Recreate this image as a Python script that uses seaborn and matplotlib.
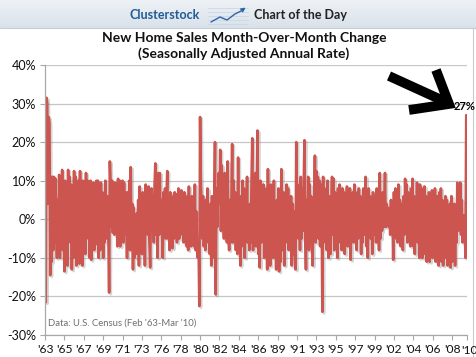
import numpy as np
import pandas as pd
import matplotlib
matplotlib.use("Agg")
import matplotlib.pyplot as plt
import matplotlib.patheffects as pe
from matplotlib.colors import LinearSegmentedColormap
import seaborn as sns

# new home sales, month-over-month % change (SAAR), Feb 1963 - Mar 2010
chg_1960s = [
    -5.0, -21.5, 31.5, 30.0, 4.0, 26.5, 25.0, -14.5, 11.0, -11.0, 11.0,
    -8.0, 11.0, -6.0, 10.5, 1.5, -10.0, 5.0, -5.5, 11.5, -10.0, 3.0, -6.0,
    12.8, -8.0, 5.0, -13.5, 10.0, -2.0, 8.5, -12.0, 12.8, -4.0, 11.0, -6.0,
    9.0, -13.0, 6.0, -10.0, 12.5, -3.0, 11.0, -12.0, 8.0, -2.0, 10.0, -11.5,
    12.5, -6.0, 9.0, -12.0, 10.0, 0.5, 7.0, -9.0, 12.0, -5.0, 10.0, -3.0,
    3.5, -10.0, 10.0, -10.5, 4.0, -6.0, 9.5, -8.0, 3.0, -6.5, 10.0, -4.0,
    10.0, -10.0, 4.0, -8.0, 9.5, -2.0, 7.0, -10.0, 3.0, -6.0, 10.0, -5.0,
]
chg_1970s = [
    1.0, 6.0, -4.0, -19.0, 15.0, 8.0, -2.0, 10.0, -3.5, 6.0, -4.0, 9.5,
    -2.0, 8.0, -7.0, 10.5, -5.0, 10.0, -7.0, 8.0, -3.0, 10.0, -6.0, 9.5,
    -4.0, 7.0, 2.0, -10.0, 7.0, -5.0, 10.0, -8.0, 13.5, -7.0, 4.0, -13.0,
    3.0, -10.0, 0.5, -9.0, 1.5, -8.0, 5.0, -12.0, 8.5, -5.0, 2.0, -9.0,
    7.0, -4.0, 5.0, -12.0, 9.0, -2.0, 6.0, -4.0, 8.5, -6.0, -12.5, 1.0,
    8.0, -3.0, 6.0, -6.0, 9.0, 14.5, -4.0, 8.0, -10.0, 12.0, -4.0, 12.0,
    -2.0, 5.0, -4.0, -10.0, 7.0, -3.0, 8.0, -5.0, 6.0, 12.5, -5.0, 4.0,
    -8.0, 7.0, -6.0, 4.0, -7.5, 6.0, -5.0, 7.0, -2.0, 6.5, -6.0, 3.0,
    8.0, -5.0, 6.0, -4.0, 7.5, -3.0, 5.0, -6.0, 7.0, -2.0, 4.0, -7.0,
    6.0, -8.0, 8.5, -5.0, 3.0, -7.0, 6.0, -4.0, 5.0, -7.0, 9.0, -8.0,
]
chg_1980s = [
    2.0, -8.0, -10.0, -6.0, -22.5, 26.5, 10.0, 4.0, -5.0, 6.0, -7.0, -2.0,
    -8.0, 5.0, -6.0, 8.0, -4.0, 3.0, -9.0, 4.0, -12.0, 6.0, -10.0, 3.0,
    5.0, 20.0, -19.5, 8.0, -2.0, 6.0, 12.0, 4.0, 18.0, -3.0, 14.0, 6.0,
    8.0, -5.0, 12.0, -3.0, 9.0, -6.0, 15.0, -4.0, -8.0, 5.0, -6.0, 4.0,
    19.5, -6.0, 10.0, -4.0, 7.0, -8.0, 5.0, -9.0, 16.0, -5.0, 3.0, -12.0,
    6.0, -7.0, 10.0, -4.0, 8.0, -10.0, 5.0, -3.0, 11.0, -6.0, 2.0, -8.0,
    4.0, -6.0, 10.0, 21.0, -8.0, 6.0, -5.0, 12.0, -7.0, 5.0, 23.0, -9.0,
    3.0, -12.5, 10.0, -6.0, 7.0, -4.0, 9.0, -10.0, 5.0, -3.0, 8.0, -13.0,
    13.0, -8.0, 7.0, -12.0, 9.0, -5.0, 6.0, -10.0, 10.0, -6.0, 4.0, -13.0,
    5.0, -9.0, 8.0, -13.5, 6.0, -11.0, 13.0, 3.0, -8.0, 7.0, -12.0, 4.0,
]
chg_1990s = [
    -6.0, 9.0, -5.0, 8.0, -8.0, 3.0, -7.0, 6.0, -12.0, 4.0, -9.0, 2.0,
    -9.0, -13.0, 20.0, -4.0, 9.0, -5.0, 7.0, -8.0, 11.0, -5.0, 8.0, -3.0,
    8.0, 20.5, -4.0, -13.0, 5.0, -6.0, 11.0, -8.0, 9.0, -4.0, 6.0, -7.0,
    -12.0, 5.0, 3.0, 16.5, -6.0, 12.5, -3.0, 11.0, -5.0, 10.0, -7.0, 9.0,
    3.0, -24.0, 11.0, -3.0, 8.0, -6.0, 5.0, -8.0, 10.0, -10.0, 6.0, -2.0,
    -9.0, 3.0, 11.0, -4.0, 10.5, -8.0, 7.0, -3.0, 5.0, -10.0, 8.0, -5.0,
    9.0, -6.0, 4.0, -8.0, 8.0, -2.0, 7.0, -9.0, 3.0, -5.0, 8.5, -7.0,
    6.0, -3.0, 8.0, -10.5, 5.0, -4.0, 7.0, -6.0, 9.0, -2.0, 4.0, -8.0,
    7.0, -5.0, 8.0, -3.0, 6.0, -9.0, 4.0, -6.0, 8.0, -4.0, 3.0, 11.0,
    -7.0, 5.0, -10.0, 8.0, -3.0, 6.0, -5.0, 4.0, -9.0, 7.0, -4.0, 6.0,
]
chg_2000s = [
    4.0, -6.0, 8.0, -3.0, 5.0, -8.0, 12.0, -5.0, 6.0, -3.0, 7.0, -2.0,
    3.0, 12.0, -2.0, 4.0, -1.0, 3.0, -2.0, 2.0, -4.0, 5.0, -3.0, 2.0,
    -10.5, 7.0, -3.0, 8.0, -5.0, 6.0, -6.0, 9.0, -2.0, 5.0, -7.0, 4.0,
    -3.0, -8.0, 6.0, -4.0, 10.5, -2.0, 9.0, -6.0, 7.0, -3.0, 4.0, -7.0,
    8.0, -5.0, 10.5, -7.0, 6.0, -9.0, 5.0, -4.0, 9.5, -6.0, 7.0, -10.0,
    9.0, -6.0, 8.0, -10.0, 7.0, -5.0, 8.5, -9.0, 6.0, -11.0, 4.0, -8.0,
    7.0, -11.0, 5.0, -8.0, 7.5, -10.0, 4.0, -9.0, 8.0, -11.0, 6.0, -7.0,
    6.0, -12.0, 7.0, -9.0, 8.0, -11.0, 5.0, -12.0, 3.0, -9.0, 6.0, -10.0,
    5.0, -12.0, 3.0, -9.0, 4.0, -12.5, 6.0, -11.0, 2.0, -8.0, 4.0, -12.0,
    3.0, -6.0, 9.5, -3.0, 9.0, 2.0, 9.5, -4.0, 5.0, -6.0, -3.0, 1.0,
]
chg_2010 = [-2.0, -10.0, 27.0]

mom_change = chg_1960s + chg_1970s + chg_1980s + chg_1990s + chg_2000s + chg_2010
months = pd.date_range("1963-02-01", periods=len(mom_change), freq="MS")

y_ticks = [-30, -20, -10, 0, 10, 20, 30, 40]
tick_every = 26  # excel put a label every 26 categories

df = pd.DataFrame({"n": np.arange(len(mom_change)), "change": mom_change})

x_pos = list(range(0, len(df), tick_every))
x_lab = ["'%02d" % (months[i].year % 100) for i in x_pos]
last_lab = "'%02d" % (months[-1].year % 100)

sns.set_style("white")
plt.rcParams["font.family"] = ["Lato", "DejaVu Sans"]

W, H = 476, 357
fig = plt.figure(figsize=(W / 100, H / 100), dpi=100)
ax = fig.add_axes([45 / W, 1 - 335 / H, 422 / W, 270 / H])

sns.lineplot(data=df, x="n", y="change", ax=ax, color="#cc5550", lw=1.9,
             path_effects=[pe.SimpleLineShadow(offset=(1.2, -1.2), shadow_color="#777777", alpha=0.3),
                           pe.Normal()])

ax.set_xlim(0, len(df))
ax.set_ylim(-30, 40)
ax.set_yticks(y_ticks)
ax.set_yticklabels([f"{v}%" for v in y_ticks])
ax.set_xticks(x_pos + [len(df)])
ax.set_xticklabels(x_lab + [""])
ax.set_xlabel("")
ax.set_ylabel("")
ax.yaxis.grid(True, color="#c6c6c6", lw=0.9)
ax.set_axisbelow(True)
for s in ["top", "right"]:
    ax.spines[s].set_visible(False)
for s in ["left", "bottom"]:
    ax.spines[s].set_color("#a8a8a8")
    ax.spines[s].set_linewidth(0.9)
ax.tick_params(axis="both", bottom=True, left=True, direction="out", length=3.5,
               width=0.8, color="#a8a8a8", labelsize=9, pad=3, labelcolor="#111111")
ax.tick_params(axis="x", labelsize=8.7)

ax.text(0.006, 0.026, "Data: U.S. Census (Feb '63-Mar '10)", transform=ax.transAxes,
        fontsize=6.8, color="#6e6e6e", va="bottom")

# overlay in pixel coords for banner, title and arrow
ov = fig.add_axes([0, 0, 1, 1])
ov.patch.set_visible(False)
banner = LinearSegmentedColormap.from_list("banner", ["#eef2f6", "#d9e1ea"])
ov.imshow(np.linspace(0, 1, 30).reshape(-1, 1), extent=[0, W, 28, 0], cmap=banner,
          aspect="auto", zorder=0)
ov.plot([0, W], [28, 28], color="#c5cdd6", lw=0.8)
ov.plot([473, 473], [28, H], color="#cccccc", lw=0.8)

# last year label sits at the right end of the axis
ov.text(469, 350, last_lab, fontsize=8.7, ha="center", va="center", color="#111111")

ov.text(165, 15, "Clusterstock", color="#1f5b98", fontsize=9, fontweight="bold",
        ha="center", va="center")
ov.text(301, 15, "Chart of the Day", color="#222222", fontsize=9, fontweight="bold",
        ha="center", va="center")
for gy in [8, 12, 16, 20, 24]:
    ov.plot([208, 248], [gy, gy], color="#cbd8e6", lw=0.6)
ov.plot([211, 220, 227, 235, 241], [22, 17, 20, 14, 11], color="#2f66a8", lw=1.0)
ov.annotate("", xy=(248, 6), xytext=(240, 11.5),
            arrowprops=dict(arrowstyle="-|>", color="#2f66a8", lw=1.0, mutation_scale=6))

ov.text(244, 38, "New Home Sales Month-Over-Month Change", fontsize=10, fontweight="bold",
        ha="center", va="center", color="#111111")
ov.text(244, 54, "(Seasonally Adjusted Annual Rate)", fontsize=10, fontweight="bold",
        ha="center", va="center", color="#111111")

# big black arrow pointing at the last spike
ov.plot([389, 446], [76, 102], color="black", lw=7, solid_capstyle="butt")
ov.plot([436, 449, 409], [70, 104, 110], color="black", lw=7,
        solid_joinstyle="miter", solid_capstyle="butt")
ov.text(465, 107, "27%", fontsize=8, fontweight="bold", ha="center", va="center", color="black")

ov.set_xlim(0, W)
ov.set_ylim(H, 0)
ov.axis("off")

fig.savefig("out.png", dpi=100)
